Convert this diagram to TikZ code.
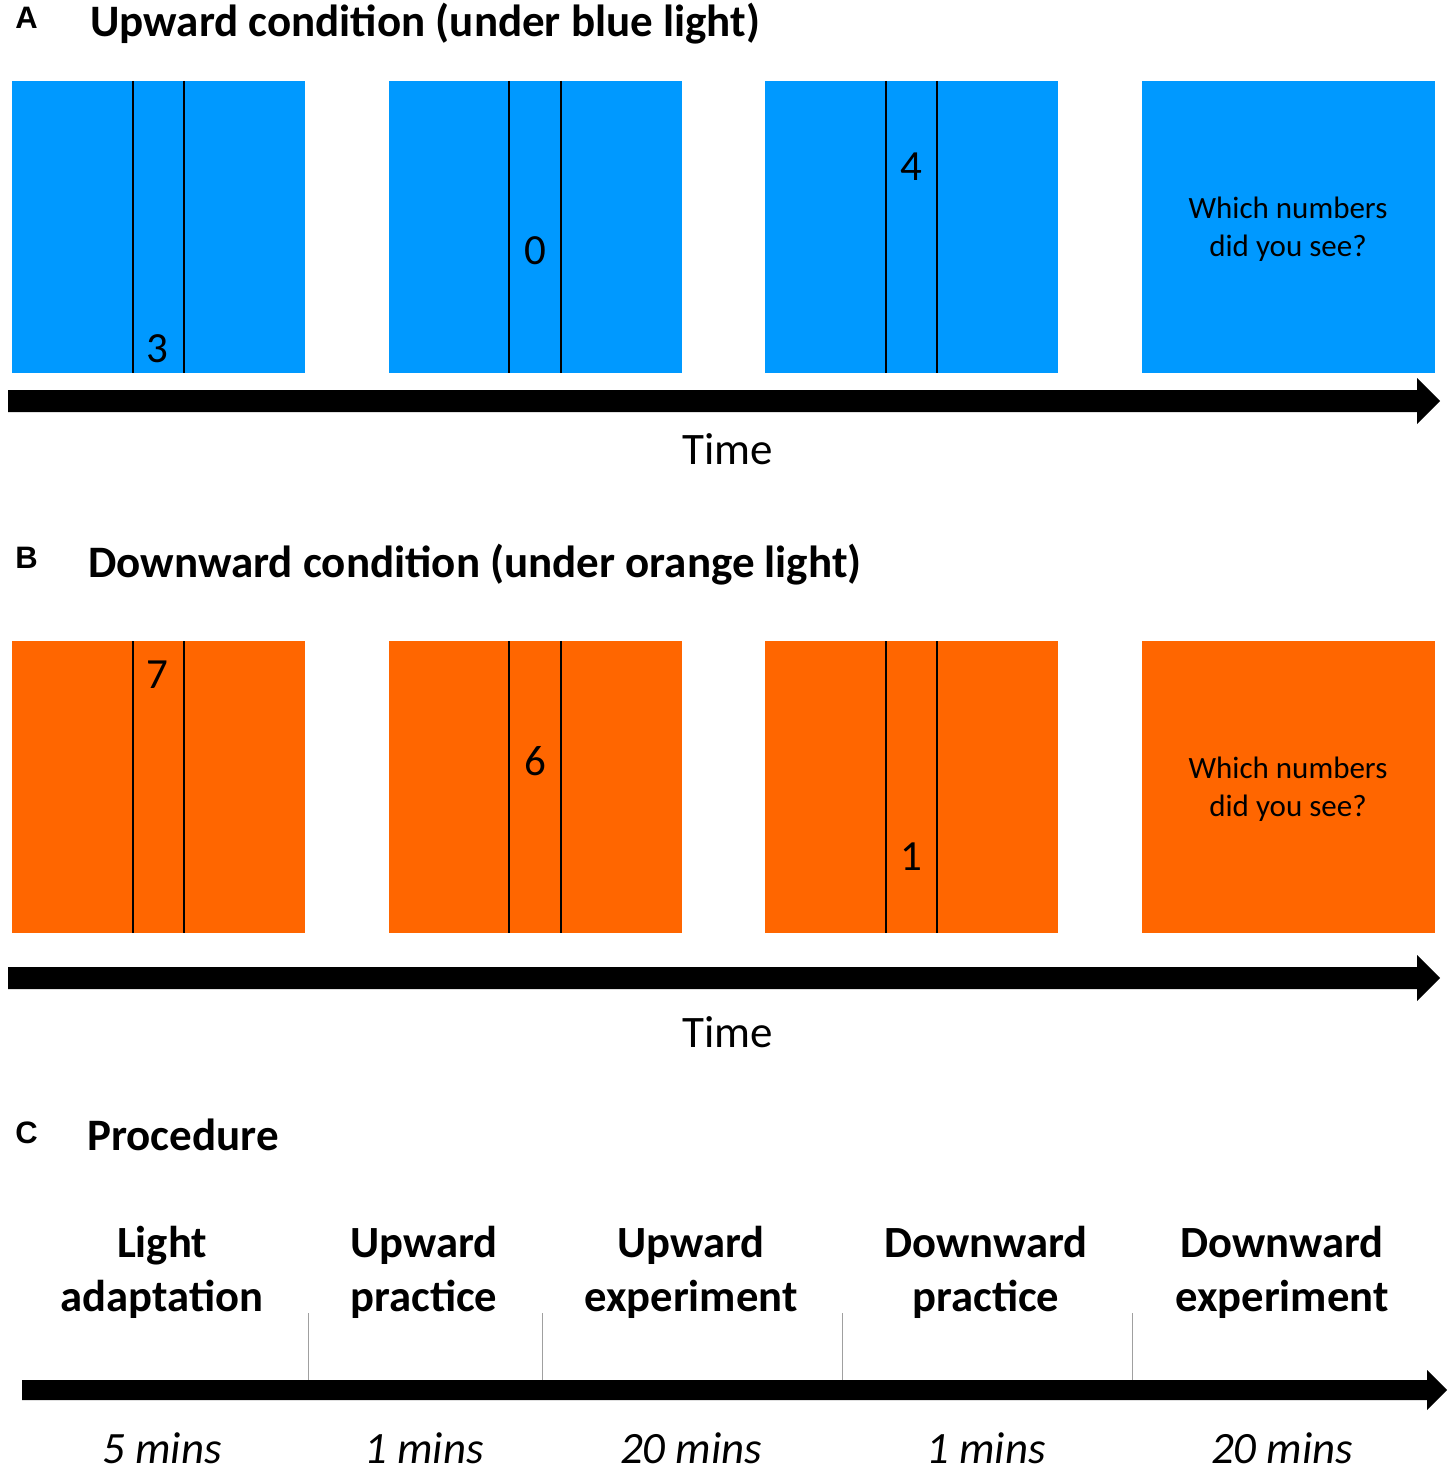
\documentclass[tikz,border=0pt]{standalone}
\usepackage{fontspec}
\setmainfont{Carlito}
\newfontfamily\arialfont{Liberation Sans}
\definecolor{lightblue}{RGB}{0,153,255}
\definecolor{lightorange}{RGB}{255,102,0}
\definecolor{divgray}{RGB}{160,160,160}
\begin{document}
\begin{tikzpicture}[x=0.5pt,y=-0.5pt,
  panel/.style={font=\arialfont\bfseries\fontsize{15.5}{18}\selectfont, inner sep=0pt, anchor=base west},
  ttl/.style={font=\bfseries\fontsize{22.5}{27}\selectfont, inner sep=0pt, anchor=base west},
  digit/.style={font=\fontsize{21.5}{25}\selectfont, inner sep=0pt, anchor=base},
  ask/.style={font=\fontsize{15.5}{18}\selectfont, inner sep=0pt, anchor=base},
  timelbl/.style={font=\fontsize{22.5}{27}\selectfont, inner sep=0pt, anchor=base},
  steplbl/.style={font=\bfseries\fontsize{22.3}{27}\selectfont, inner sep=0pt, anchor=base},
  durlbl/.style={font=\itshape\fontsize{22.4}{27}\selectfont, inner sep=0pt, anchor=base},
  bar/.style={draw=black, line width=1pt},
  divider/.style={draw=divgray, line width=0.5pt}
]
\useasboundingbox (0,0) rectangle (1450,1476);

% ---------- Panel A ----------
\node[panel] (labA) at (15,29) {A};
\node[ttl] (ttlA) at (90,37) {Upward condition (under blue light)};

\foreach \x in {12,389,765,1142}{
  \fill[lightblue] (\x,81) rectangle ++(293,292);
}
\foreach \x in {133,184,509,561,886,937}{
  \draw[bar] (\x,81) -- (\x,373);
}
\node[digit] (nA1) at (157,363) {3};
\node[digit] (nA2) at (535,265) {0};
\node[digit] (nA3) at (911,181) {4};
\node[ask] (qA1) at (1288,219) {Which numbers};
\node[ask] (qA2) at (1288,257) {did you see?};

\fill[black] (8,390) -- (1417,390) -- (1417,378) -- (1440,401) -- (1417,424) -- (1417,412) -- (8,412) -- cycle;
\node[timelbl] (timeA) at (728,464) {Time};

% ---------- Panel B ----------
\node[panel] (labB) at (15,568) {B};
\node[ttl] (ttlB) at (88,577) {Downward condition (under orange light)};

\foreach \x in {12,389,765,1142}{
  \fill[lightorange] (\x,641) rectangle ++(293,292);
}
\foreach \x in {133,184,509,561,886,937}{
  \draw[bar] (\x,641) -- (\x,933);
}
\node[digit] (nB1) at (157,688) {7};
\node[digit] (nB2) at (535,775) {6};
\node[digit] (nB3) at (911,870) {1};
\node[ask] (qB1) at (1288,778) {Which numbers};
\node[ask] (qB2) at (1288,816) {did you see?};

\fill[black] (8,967) -- (1417,967) -- (1417,955) -- (1440,978) -- (1417,1001) -- (1417,989) -- (8,989) -- cycle;
\node[timelbl] (timeB) at (728,1047) {Time};

% ---------- Panel C ----------
\node[panel] (labC) at (15,1143) {C};
\node[ttl] (ttlC) at (87,1150) {Procedure};

\node[steplbl] (s1a) at (162,1257) {Light};
\node[steplbl] (s1b) at (162,1311) {adaptation};
\node[steplbl] (s2a) at (424,1257) {Upward};
\node[steplbl] (s2b) at (424,1311) {practice};
\node[steplbl] (s3a) at (691,1257) {Upward};
\node[steplbl] (s3b) at (691,1311) {experiment};
\node[steplbl] (s4a) at (986,1257) {Downward};
\node[steplbl] (s4b) at (986,1311) {practice};
\node[steplbl] (s5a) at (1282,1257) {Downward};
\node[steplbl] (s5b) at (1282,1311) {experiment};

\foreach \x in {308,542,842,1132}{
  \draw[divider] (\x,1313) -- (\x,1380);
}
\fill[black] (22,1380) -- (1427,1380) -- (1427,1370) -- (1447,1390) -- (1427,1410) -- (1427,1400) -- (22,1400) -- cycle;

\node[durlbl] (d1) at (162,1463) {5 mins};
\node[durlbl] (d2) at (424,1463) {1 mins};
\node[durlbl] (d3) at (691,1463) {20 mins};
\node[durlbl] (d4) at (986,1463) {1 mins};
\node[durlbl] (d5) at (1282,1463) {20 mins};
\end{tikzpicture}
\end{document}
